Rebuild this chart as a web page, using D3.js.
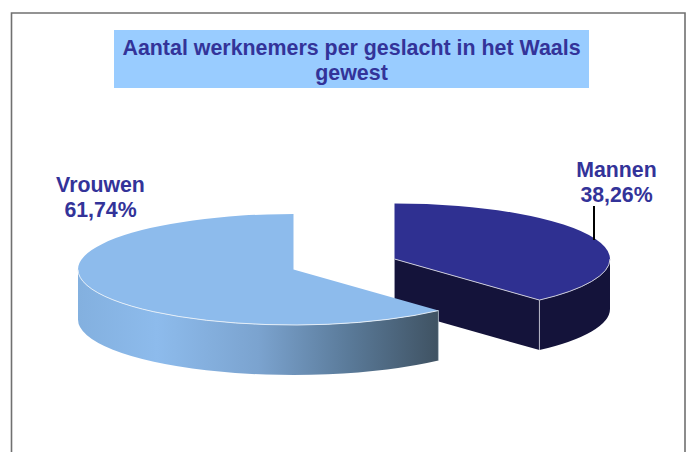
<!DOCTYPE html>
<html><head><meta charset="utf-8">
<script src="https://d3js.org/d3.v7.min.js"></script>
<style>html,body{margin:0;padding:0;background:#fff}svg{display:block}text{font-family:"Liberation Sans",Arial,sans-serif;font-weight:bold;fill:#333399}</style>
</head><body><svg id="c" width="692" height="452"></svg>
<script>
const categories = ["Mannen", "Vrouwen"];
const shares = [38.26, 61.74];
const shareLabels = ["38,26%", "61,74%"];
const titleLines = ["Aantal werknemers per geslacht in het Waals", "gewest"];
const topColors = ["#2f3091", "#8dbbec"];
const wallColors = ["#14133a", "url(#wallGrad)"];
const gradStops = [[0,"#83b0df"],[0.22,"#8dbbec"],[0.5,"#7ba3cf"],[0.75,"#5a7a99"],[1,"#3f5262"]];

const svg = d3.select("#c");
const RX = 215.5, RY = 55.5, DEPTH = 50;
const centers = [{x:394.5,y:259},{x:293.5,y:269.5}];

const defs = svg.append("defs");
const lg = defs.append("linearGradient").attr("id","wallGrad").attr("gradientUnits","userSpaceOnUse")
  .attr("x1",78).attr("x2",439).attr("y1",0).attr("y2",0);
gradStops.forEach(s=>lg.append("stop").attr("offset",s[0]).attr("stop-color",s[1]));

// chart frame (runs off the bottom of the picture)
svg.append("path").attr("d","M11.5,470V13H685V470").attr("fill","none").attr("stroke","#707070").attr("stroke-width",1.6);

// title
svg.append("rect").attr("x",114).attr("y",30).attr("width",475).attr("height",58).attr("fill","#99ccff");
svg.selectAll("text.title").data(titleLines).join("text").attr("class","title")
  .attr("x",351.5).attr("y",(d,i)=>55+i*24.5).attr("text-anchor","middle").attr("font-size",21.4).text(d=>d);

const arcs = d3.pie().sort(null)(shares);
const px = c => d3.scaleLinear().domain([-1,1]).range([c.x-RX,c.x+RX]);
const py = c => d3.scaleLinear().domain([-1,1]).range([c.y-RY,c.y+RY]);
const P = (c,a,dz=0)=>[px(c)(Math.sin(a)), py(c)(-Math.cos(a))+dz];
const f = p=>p[0].toFixed(2)+","+p[1].toFixed(2);
const ell = (c,a1,a2,sweep,dz=0)=>{
  const large = Math.abs(a2-a1)>Math.PI?1:0;
  return `A${RX},${RY} 0 ${large} ${sweep} ${f(P(c,a2,dz))}`;
};
const topPath = (c,a)=>`M${f([c.x,c.y])}L${f(P(c,a.startAngle))}${ell(c,a.startAngle,a.endAngle,1)}Z`;
const wallPath = (c,a1,a2)=>`M${f(P(c,a1))}${ell(c,a1,a2,1)}L${f(P(c,a2,DEPTH))}${ell(c,a2,a1,0,DEPTH)}Z`;

// Mannen
(function(){
  const c = centers[0], a = arcs[0], g = svg.append("g");
  const e = P(c,a.endAngle);
  const cut = [[c.x,c.y],e,[e[0],e[1]+DEPTH],[c.x,c.y+DEPTH]];
  g.append("path").attr("d",d3.line()(cut)+"Z").attr("fill",wallColors[0]);
  g.append("path").attr("d",wallPath(c,Math.PI/2,a.endAngle)).attr("fill",wallColors[0]);
  g.append("path").attr("d",topPath(c,a)).attr("fill",topColors[0]);
  g.append("path").attr("d",`M${f(P(c,Math.PI/2))}${ell(c,Math.PI/2,a.endAngle,1)}L${f([c.x,c.y])}`)
    .attr("fill","none").attr("stroke","#c9c9d8").attr("stroke-width",1);
  g.append("path").attr("d",d3.line()([e,[e[0],e[1]+DEPTH]])).attr("stroke","#b9b9c8").attr("stroke-width",1);
  g.append("path").attr("d",d3.line()([[c.x,c.y],[c.x,c.y+DEPTH]])).attr("stroke","#9a9ab0").attr("stroke-width",0.8);
})();

// Vrouwen
(function(){
  const c = centers[1], a = arcs[1], g = svg.append("g");
  g.append("path").attr("d",wallPath(c,a.startAngle,Math.PI*1.5)).attr("fill",wallColors[1]);
  g.append("path").attr("d",topPath(c,a)).attr("fill",topColors[1]);
  g.append("path").attr("d",`M${f(P(c,a.startAngle))}${ell(c,a.startAngle,Math.PI*1.5,1)}`)
    .attr("fill","none").attr("stroke","#e4eef8").attr("stroke-width",1);
  const e = P(c,a.startAngle);
  g.append("path").attr("d",d3.line()([e,[e[0],e[1]+DEPTH]])).attr("stroke","#b8c4cf").attr("stroke-width",0.8);
})();

// leader
svg.append("line").attr("x1",594).attr("x2",594).attr("y1",206).attr("y2",240).attr("stroke","#000").attr("stroke-width",2);

// labels
const labelPos = [{x:616.5,y:177.3},{x:100.5,y:191.5}];
categories.forEach((n,i)=>{
  svg.append("text").attr("x",labelPos[i].x).attr("y",labelPos[i].y).attr("text-anchor","middle").attr("font-size",21.3).text(n);
  svg.append("text").attr("x",labelPos[i].x).attr("y",labelPos[i].y+25).attr("text-anchor","middle").attr("font-size",21.3).text(shareLabels[i]);
});
</script></body></html>
